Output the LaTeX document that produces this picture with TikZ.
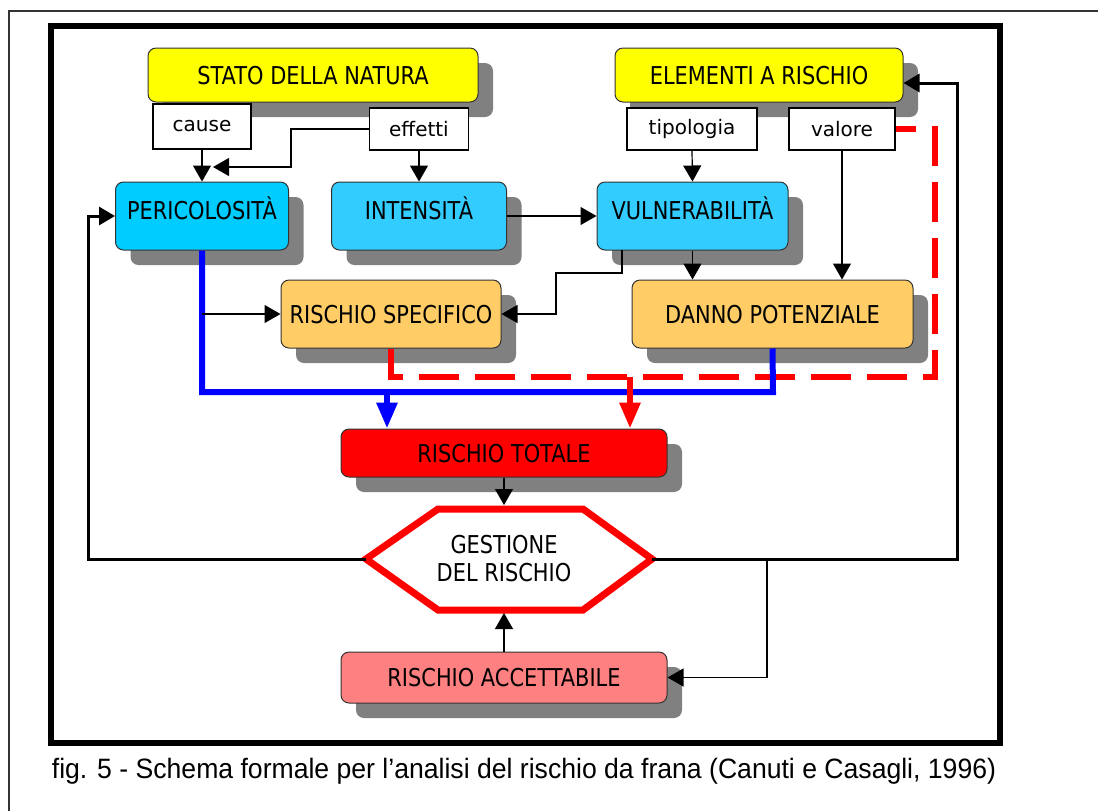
\documentclass[tikz,border=0pt]{standalone}
\usepackage{fontspec}
\newfontfamily\boxfont[FakeStretch=0.85]{DejaVu Sans}
\newfontfamily\labfont{DejaVu Sans}
\newfontfamily\capfont[FakeStretch=0.95]{Liberation Sans}
\usetikzlibrary{arrows.meta,shadows}
\definecolor{giallo}{HTML}{FFFF00}
\definecolor{azzurro}{HTML}{00CCFF}
\definecolor{celeste}{HTML}{33CCFF}
\definecolor{arancio}{HTML}{FFCC66}
\definecolor{rosa}{HTML}{FF8080}
\definecolor{ombra}{HTML}{808080}
\begin{document}
\begin{tikzpicture}[x=0.5pt, y=-0.5pt,
  box/.style={draw=black!80, line width=0.5pt, rounded corners=4pt,
    minimum height=34pt, text height=9pt, text depth=0pt,
    font=\boxfont\fontsize{12.3}{14}\selectfont,
    drop shadow={shadow xshift=7.5pt, shadow yshift=-7.5pt, fill=ombra, opacity=1}},
  high/.style={text depth=6pt},
  lab/.style={draw, line width=0.8pt, minimum height=21pt, fill=white,
    font=\labfont\fontsize{10}{12}\selectfont},
  arr/.style={-{Triangle[length=8pt,width=9pt]}, line width=0.6pt},
  loopline/.style={-{Triangle[length=8pt,width=9pt]}, line width=1.5pt},
  blueline/.style={blue, line width=3pt},
  bluearr/.style={blue, line width=3pt, -{Triangle[length=13pt,width=10pt]}},
  reddash/.style={red, line width=3pt, dash pattern=on 20pt off 8pt},
  redarr/.style={red, line width=3pt, -{Triangle[length=13pt,width=10pt]}},
  hexline/.style={red, line width=3.5pt, line join=miter, fill=white}]
\useasboundingbox (0,0) rectangle (1098,811);
\draw[line width=1pt, black!80] (1098,11) -- (9,11) -- (9,811);
\draw[line width=3pt] (51,26) rectangle (1000,743);

\draw (313, 75) node[box, fill=giallo, minimum width=165pt, minimum height=27pt] (stato) {STATO DELLA NATURA};
\draw (759, 75) node[box, fill=giallo, minimum width=144pt, minimum height=27pt] (elem) {ELEMENTI A RISCHIO};
\draw (202, 126.5) node[lab, minimum width=49pt, minimum height=22.5pt] (cause) {cause};
\draw (419, 129) node[lab, minimum width=49.5pt] (effetti) {effetti};
\draw (692, 129) node[lab, minimum width=65pt] (tipol) {tipologia};
\draw (842, 129) node[lab, minimum width=53pt] (valore) {valore};

\draw (202, 216) node[box, high, fill=azzurro, minimum width=86.5pt] (peric) {PERICOLOSITÀ};
\draw (419, 216) node[box, high, fill=celeste, minimum width=87.5pt] (intens) {INTENSITÀ};
\draw (692.5, 216) node[box, high, fill=celeste, minimum width=95.5pt] (vuln) {VULNERABILITÀ};
\draw (391, 314) node[box, fill=arancio, minimum width=110pt] (rspec) {RISCHIO SPECIFICO};
\draw (772.5, 314) node[box, fill=arancio, minimum width=140.5pt] (danno) {DANNO POTENZIALE};
\draw (504, 453) node[box, fill=red, minimum width=163pt, minimum height=24pt] (rtot) {RISCHIO TOTALE};
\draw (504, 677.5) node[box, fill=rosa, minimum width=163pt, minimum height=25.5pt] (racc) {RISCHIO ACCETTABILE};

\coordinate (hl) at (366, 559);
\coordinate (htl) at (438, 509);
\coordinate (htr) at (583, 509);
\coordinate (hr) at (652, 559);
\coordinate (hbr) at (583, 610);
\coordinate (hbl) at (438, 610);
\coordinate (ht) at (504, 505);
\coordinate (hb) at (504, 613);
\draw[hexline] (hl) -- (htl) -- (htr) -- (hr) -- (hbr) -- (hbl) -- cycle;
\draw (504, 559) node[align=center, font=\boxfont\fontsize{12.3}{14}\selectfont] (gest) {GESTIONE\\DEL RISCHIO};

\coordinate (ebend) at (291, 167);
\coordinate (etip) at (213, 167);
\coordinate (vs) at (622, 250);
\coordinate (vbend) at (556, 273);
\coordinate (rdc) at (935, 377);
\coordinate (rsplit) at (630, 377);
\coordinate (bc) at (773, 392);
\coordinate (bsplit) at (387, 392);
\coordinate (lc) at (88, 559);
\coordinate (rc) at (957, 559);
\coordinate (rd) at (767, 559);

\draw[reddash] (rspec.south) |- (rdc) |- (valore.east);
\draw[blueline] (peric.south) |- (bc) -- (danno.south);
\draw[bluearr] (bsplit) -- (bsplit |- rtot.north);
\draw[redarr] (rsplit) -- (rsplit |- rtot.north);

\draw[arr] (cause.south) -- (peric.north);
\draw[arr] (effetti.west) -| (ebend) -- (etip);
\draw[arr] (effetti.south) -- (intens.north);
\draw[arr] (intens.east) -- (vuln.west);
\draw[arr] (tipol.south) -- (vuln.north);
\draw[arr] (valore.south) -- (valore.south |- danno.north);
\draw[arr] (vuln.south) -- (vuln.south |- danno.north);
\draw[arr] (vs) |- (vbend) |- (rspec.east);
\draw[arr] (peric.south |- rspec.west) -- (rspec.west);
\draw[arr] (rtot.south) -- (ht);
\draw[arr] (racc.north) -- (hb);

\draw[loopline] (hl) -- (lc) |- (peric.west);
\draw[loopline] (hr) -- (rc) |- ([yshift=-4pt]elem.east);
\draw[arr] (rd) |- (racc.east);

\draw (524, 771) node[font=\capfont\fontsize{14}{16}\selectfont] (cap) {fig. 5 - Schema formale per l’analisi del rischio da frana (Canuti e Casagli, 1996)};
\end{tikzpicture}
\end{document}
